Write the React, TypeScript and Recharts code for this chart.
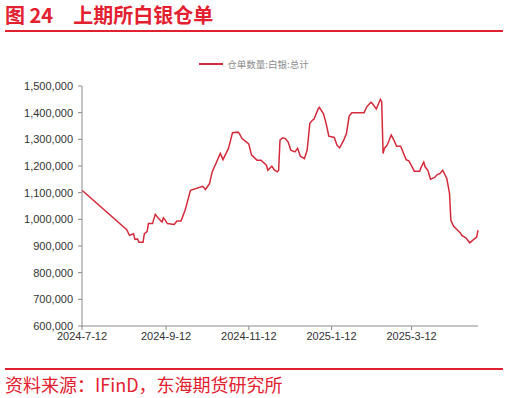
import { Line, LineChart, XAxis, YAxis } from 'recharts'

const dates = [
  '2024-07-12', '2024-08-14', '2024-08-16', '2024-08-19', '2024-08-20', '2024-08-22', '2024-08-23',
  '2024-08-26', '2024-08-27', '2024-08-29', '2024-08-30', '2024-09-02', '2024-09-04', '2024-09-06',
  '2024-09-09', '2024-09-10', '2024-09-11', '2024-09-13', '2024-09-18', '2024-09-20', '2024-09-23',
  '2024-09-26', '2024-09-30', '2024-10-09', '2024-10-11', '2024-10-14', '2024-10-16', '2024-10-22',
  '2024-10-24', '2024-10-28', '2024-10-31', '2024-11-04', '2024-11-05', '2024-11-07', '2024-11-11',
  '2024-11-12', '2024-11-14', '2024-11-15', '2024-11-18', '2024-11-21', '2024-11-25', '2024-11-26',
  '2024-11-29', '2024-12-01', '2024-12-03', '2024-12-04', '2024-12-05', '2024-12-07', '2024-12-09',
  '2024-12-11', '2024-12-13', '2024-12-16', '2024-12-18', '2024-12-20', '2024-12-23', '2024-12-25',
  '2024-12-27', '2024-12-29', '2024-12-30', '2025-01-02', '2025-01-03', '2025-01-06', '2025-01-08',
  '2025-01-10', '2025-01-14', '2025-01-16', '2025-01-18', '2025-01-21', '2025-01-23', '2025-01-25',
  '2025-01-27', '2025-02-05', '2025-02-07', '2025-02-10', '2025-02-11', '2025-02-14', '2025-02-17',
  '2025-02-18', '2025-02-19', '2025-02-20', '2025-02-22', '2025-02-25', '2025-02-27', '2025-03-01',
  '2025-03-04', '2025-03-06', '2025-03-08', '2025-03-10', '2025-03-13', '2025-03-14', '2025-03-18',
  '2025-03-19', '2025-03-21', '2025-03-22', '2025-03-24', '2025-03-26', '2025-03-29', '2025-03-31',
  '2025-04-02', '2025-04-04', '2025-04-07', '2025-04-09', '2025-04-10', '2025-04-12', '2025-04-15',
  '2025-04-17', '2025-04-18', '2025-04-21', '2025-04-24', '2025-04-26', '2025-04-29', '2025-04-30',
]

// 仓单数量:白银:总计 (kg)
const silverReceipts = [
  1109000, 961000, 940000, 946000, 925000, 926000, 914000,
  914000, 946000, 954000, 984000, 984000, 1019000, 1006000,
  990000, 1006000, 1000000, 984000, 981000, 994000, 994000,
  1034000, 1109000, 1124000, 1112000, 1134000, 1178000, 1247000,
  1224000, 1266000, 1325000, 1327000, 1322000, 1303000, 1287000,
  1282000, 1241000, 1237000, 1222000, 1222000, 1203000, 1184000,
  1199000, 1184000, 1178000, 1184000, 1297000, 1306000, 1303000,
  1290000, 1259000, 1253000, 1266000, 1237000, 1228000, 1259000,
  1360000, 1372000, 1375000, 1412000, 1420000, 1397000, 1360000,
  1312000, 1307000, 1278000, 1268000, 1297000, 1322000, 1387000,
  1400000, 1400000, 1422000, 1439000, 1435000, 1414000, 1450000,
  1441000, 1247000, 1266000, 1278000, 1316000, 1297000, 1274000,
  1274000, 1249000, 1224000, 1219000, 1191000, 1180000, 1180000,
  1194000, 1215000, 1197000, 1184000, 1150000, 1157000, 1168000,
  1172000, 1184000, 1153000, 1097000, 996000, 974000, 959000,
  949000, 940000, 931000, 912000, 921000, 933000, 959000,
]

const xTickDates = ['2024-07-12', '2024-09-12', '2024-11-12', '2025-01-12', '2025-03-12']
const xTickLabels = ['2024-7-12', '2024-9-12', '2024-11-12', '2025-1-12', '2025-3-12']
const yTicks = [600000, 700000, 800000, 900000, 1000000, 1100000, 1200000, 1300000, 1400000, 1500000]

const seriesName = '仓单数量:白银:总计'
const RED = '#e3202f'
const LINE = '#d52a3c'
const AXIS = '#8a8a8a'
const tickFont = { fill: '#333', fontSize: 11, fontFamily: '"Liberation Sans", Arial, sans-serif' }

const toTime = (d: string) => new Date(d).getTime()

const data = dates.map((d, i) => ({ t: toTime(d), value: silverReceipts[i] }))
const xTicks = xTickDates.map(toTime)
const xDomain = [toTime(dates[0]), toTime(dates[dates.length - 1])]

const fmtNum = (v: number) => v.toLocaleString('en-US')

export default function App() {
  return (
    <div
      style={{
        position: 'absolute',
        left: 0,
        top: 0,
        width: 508,
        height: 398,
        background: '#fff',
        fontFamily: '"Noto Sans CJK SC", sans-serif',
      }}
    >
      <div
        style={{
          position: 'absolute',
          left: 5,
          top: 2,
          fontSize: 20,
          fontWeight: 700,
          color: RED,
          lineHeight: '26px',
          whiteSpace: 'nowrap',
        }}
      >
        <span>图 24</span>
        <span style={{ marginLeft: 20 }}>上期所白银仓单</span>
      </div>
      <div style={{ position: 'absolute', left: 5, top: 30, width: 498, height: 2, background: RED }} />

      {/* legend */}
      <div
        style={{
          position: 'absolute',
          top: 55,
          left: 0,
          width: 508,
          display: 'flex',
          justifyContent: 'center',
          alignItems: 'center',
          height: 18,
          color: '#8c8c8c',
          fontSize: 9.5,
        }}
      >
        <svg width={24} height={4} style={{ marginRight: 4 }}>
          <line x1={0} y1={2} x2={24} y2={2} stroke={LINE} strokeWidth={2} />
        </svg>
        <span>{seriesName}</span>
      </div>

      <LineChart
        width={508}
        height={398}
        data={data}
        margin={{ top: 86, right: 30, left: 0, bottom: 42 }}
        style={{ position: 'absolute', left: 0, top: 0 }}
      >
        <XAxis
          type="number"
          dataKey="t"
          domain={xDomain}
          ticks={xTicks}
          tickFormatter={(v: number) => xTickLabels[xTicks.indexOf(v)] ?? ''}
          height={30}
          stroke={AXIS}
          tickSize={4}
          tick={tickFont}
          interval={0}
        />
        <YAxis
          type="number"
          domain={[600000, 1500000]}
          ticks={yTicks}
          tickFormatter={fmtNum}
          width={82}
          stroke={AXIS}
          tickSize={4}
          tickMargin={5}
          tick={tickFont}
          interval={0}
        />
        <Line
          type="linear"
          dataKey="value"
          name={seriesName}
          stroke={LINE}
          strokeWidth={1.5}
          dot={false}
          isAnimationActive={false}
        />
      </LineChart>

      <div style={{ position: 'absolute', left: 5, top: 368, width: 498, height: 2, background: RED }} />
      <div
        style={{
          position: 'absolute',
          left: 5,
          top: 371,
          fontSize: 18,
          color: RED,
          lineHeight: '26px',
          whiteSpace: 'nowrap',
        }}
      >
        资料来源：IFinD，东海期货研究所
      </div>
    </div>
  )
}
